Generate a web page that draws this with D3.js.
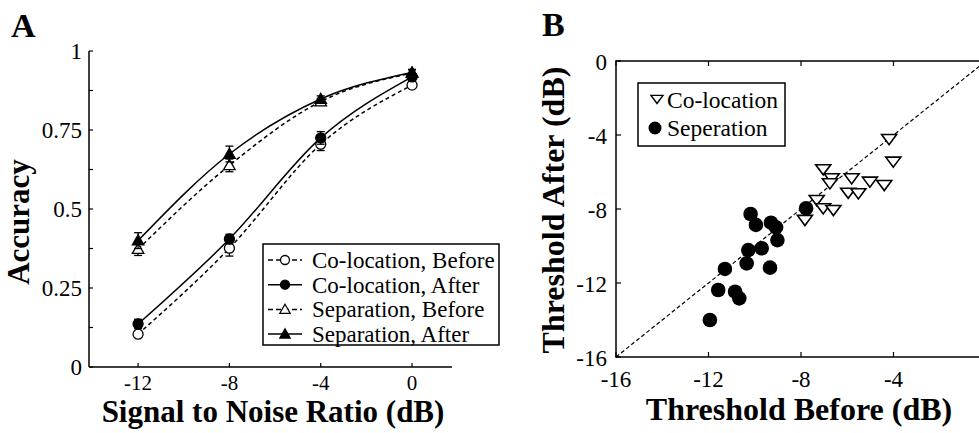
<!DOCTYPE html>
<html>
<head>
<meta charset="utf-8">
<script src="https://cdn.jsdelivr.net/npm/d3@7"></script>
<style>
  body { margin: 0; background: #fff; }
  svg { display: block; font-family: "Liberation Serif", "Times New Roman", serif; }
</style>
</head>
<body>
<div id="chart"></div>
<script>
// Panel A data: accuracy vs SNR
const snr = [-12, -8, -4, 0];
const coBefore = [0.104, 0.376, 0.705, 0.892];
const coAfter = [0.136, 0.405, 0.725, 0.918];
const sepBefore = [0.373, 0.638, 0.840, 0.930];
const sepAfter = [0.400, 0.674, 0.848, 0.932];
const coBeforeErr = [0.01, 0.025, 0.02, 0.01];
const coAfterErr = [0.015, 0.015, 0.02, 0.01];
const sepBeforeErr = [0.02, 0.02, 0.01, 0.01];
const sepAfterErr = [0.025, 0.025, 0.01, 0.01];
const accTicks = [0, 0.25, 0.5, 0.75, 1];
const accMinorTicks = [0.125, 0.375, 0.625, 0.875];

// Panel B data: thresholds before / after (dB)
const coX = [-7.04, -6.67, -6.75, -5.81, -5.02, -4.40, -4.01, -5.96, -5.52, -7.32, -7.04, -6.60, -7.83, -4.19];
const coY = [-5.85, -6.34, -6.61, -6.34, -6.52, -6.70, -5.44, -7.12, -7.15, -7.51, -7.96, -8.05, -8.59, -4.22];
const sepX = [-10.18, -9.95, -9.30, -9.08, -9.02, -10.28, -9.70, -10.35, -9.34, -11.29, -11.58, -10.85, -10.67, -11.94, -7.78];
const sepY = [-8.27, -8.86, -8.74, -8.99, -9.68, -10.22, -10.12, -10.94, -11.17, -11.24, -12.38, -12.47, -12.83, -14.00, -7.96];
const thrTicks = [-16, -12, -8, -4, 0];

const svg = d3.select("#chart").append("svg")
    .attr("width", 979)
    .attr("height", 433);

svg.append("rect").attr("width", 979).attr("height", 433).attr("fill", "#fff");

// ---------- Panel A ----------
const xA = d3.scaleLinear().domain([-14.15, 1.75]).range([89, 452]);
const yA = d3.scaleLinear().domain([0, 1]).range([367, 51]);

const gA = svg.append("g");

gA.append("line").attr("x1", xA.range()[0]).attr("x2", xA.range()[0])
    .attr("y1", yA(0)).attr("y2", yA(1)).attr("stroke", "#000").attr("stroke-width", 1.5);
gA.append("line").attr("x1", xA.range()[0]).attr("x2", xA.range()[1])
    .attr("y1", yA(0)).attr("y2", yA(0)).attr("stroke", "#000").attr("stroke-width", 1.5);

// y ticks (inward)
gA.selectAll(".ytick").data(accTicks.concat(accMinorTicks)).enter().append("line")
    .attr("x1", xA.range()[0]).attr("x2", xA.range()[0] + 4)
    .attr("y1", d => yA(d)).attr("y2", d => yA(d))
    .attr("stroke", "#000").attr("stroke-width", 1.2);
gA.selectAll(".ylab").data(accTicks).enter().append("text")
    .attr("x", xA.range()[0] - 7).attr("y", d => yA(d) + 8)
    .attr("text-anchor", "end").attr("font-size", 23)
    .text(d => d3.format("")(d));

// x ticks
gA.selectAll(".xtick").data(snr).enter().append("line")
    .attr("x1", d => xA(d)).attr("x2", d => xA(d))
    .attr("y1", yA(0)).attr("y2", yA(0) - 4)
    .attr("stroke", "#000").attr("stroke-width", 1.2);
gA.selectAll(".xlab").data(snr).enter().append("text")
    .attr("x", d => xA(d)).attr("y", 390)
    .attr("text-anchor", "middle").attr("font-size", 21)
    .text(d => d);

gA.append("text").attr("x", 273).attr("y", 422)
    .attr("text-anchor", "middle").attr("font-size", 31).attr("font-weight", "bold")
    .text("Signal to Noise Ratio (dB)");
gA.append("text").attr("transform", "translate(29,222) rotate(-90)")
    .attr("text-anchor", "middle").attr("font-size", 31).attr("font-weight", "bold")
    .text("Accuracy");
gA.append("text").attr("x", 11).attr("y", 37)
    .attr("font-size", 34).attr("font-weight", "bold").text("A");

const series = [
    { name: "Co-location, Before", vals: coBefore, err: coBeforeErr, dash: "4,3", shape: "circle", filled: false },
    { name: "Co-location, After", vals: coAfter, err: coAfterErr, dash: null, shape: "circle", filled: true },
    { name: "Separation, Before", vals: sepBefore, err: sepBeforeErr, dash: "4,3", shape: "triangle", filled: false },
    { name: "Separation, After", vals: sepAfter, err: sepAfterErr, dash: null, shape: "triangle", filled: true }
];

const lineA = d3.line()
    .x((d, i) => xA(snr[i]))
    .y(d => yA(d))
    .curve(d3.curveMonotoneX);

function drawMarker(g, shape, filled, x, y, size) {
    if (shape === "circle") {
        g.append("circle").attr("cx", x).attr("cy", y).attr("r", size)
            .attr("fill", filled ? "#000" : "#fff").attr("stroke", "#000").attr("stroke-width", 1.3);
    } else {
        const s = size * 1.15;
        g.append("path")
            .attr("d", `M${x},${y - s}L${x + s},${y + s * 0.75}L${x - s},${y + s * 0.75}Z`)
            .attr("fill", filled ? "#000" : "#fff").attr("stroke", "#000").attr("stroke-width", 1.3);
    }
}

series.forEach(s => {
    gA.append("path").datum(s.vals)
        .attr("d", lineA)
        .attr("fill", "none").attr("stroke", "#000").attr("stroke-width", 1.5)
        .attr("stroke-dasharray", s.dash);
    s.vals.forEach((v, i) => {
        const x = xA(snr[i]);
        gA.append("line").attr("x1", x).attr("x2", x)
            .attr("y1", yA(v - s.err[i])).attr("y2", yA(v + s.err[i]))
            .attr("stroke", "#000").attr("stroke-width", 1.3);
        [v - s.err[i], v + s.err[i]].forEach(e => {
            gA.append("line").attr("x1", x - 4).attr("x2", x + 4)
                .attr("y1", yA(e)).attr("y2", yA(e))
                .attr("stroke", "#000").attr("stroke-width", 1.3);
        });
        drawMarker(gA, s.shape, s.filled, x, yA(v), 5);
    });
});

// legend A
const legA = gA.append("g");
legA.append("rect").attr("x", 263).attr("y", 244).attr("width", 236).attr("height", 101)
    .attr("fill", "#fff").attr("stroke", "#000").attr("stroke-width", 1.5);
series.forEach((s, i) => {
    const ly = 260 + i * 24.7;
    legA.append("line").attr("x1", 268).attr("x2", 302).attr("y1", ly).attr("y2", ly)
        .attr("stroke", "#000").attr("stroke-width", 1.5).attr("stroke-dasharray", s.dash ? "5,3" : null);
    drawMarker(legA, s.shape, s.filled, 285, ly, 4.5);
    legA.append("text").attr("x", 312).attr("y", ly + 8)
        .attr("font-size", 23).text(s.name);
});

// ---------- Panel B ----------
const xB = d3.scaleLinear().domain([-16, 0]).range([616, 986]);
const yB = d3.scaleLinear().domain([-16, 0]).range([357, 61]);

const gB = svg.append("g");

gB.append("rect").attr("x", xB(-16)).attr("y", yB(0))
    .attr("width", xB(0) - xB(-16)).attr("height", yB(-16) - yB(0))
    .attr("fill", "none").attr("stroke", "#000").attr("stroke-width", 1.5);

thrTicks.forEach(t => {
    gB.append("line").attr("x1", xB(t)).attr("x2", xB(t)).attr("y1", yB(-16)).attr("y2", yB(-16) - 5)
        .attr("stroke", "#000").attr("stroke-width", 1.2);
    gB.append("line").attr("x1", xB(t)).attr("x2", xB(t)).attr("y1", yB(0)).attr("y2", yB(0) + 5)
        .attr("stroke", "#000").attr("stroke-width", 1.2);
    gB.append("line").attr("x1", xB(-16)).attr("x2", xB(-16) + 5).attr("y1", yB(t)).attr("y2", yB(t))
        .attr("stroke", "#000").attr("stroke-width", 1.2);
});
gB.selectAll(".bxl").data(thrTicks).enter().append("text")
    .attr("x", d => xB(d)).attr("y", 387)
    .attr("text-anchor", "middle").attr("font-size", 23).text(d => d);
gB.selectAll(".byl").data(thrTicks).enter().append("text")
    .attr("x", xB(-16) - 9).attr("y", d => yB(d) + 9)
    .attr("text-anchor", "end").attr("font-size", 23).text(d => d);

gB.append("text").attr("x", 799).attr("y", 420)
    .attr("text-anchor", "middle").attr("font-size", 32).attr("font-weight", "bold")
    .text("Threshold Before (dB)");
gB.append("text").attr("transform", "translate(564,210) rotate(-90)")
    .attr("text-anchor", "middle").attr("font-size", 32).attr("font-weight", "bold")
    .text("Threshold After (dB)");
gB.append("text").attr("x", 542).attr("y", 36)
    .attr("font-size", 34).attr("font-weight", "bold").text("B");

// identity line
gB.append("line").attr("x1", xB(-16)).attr("y1", yB(-16)).attr("x2", xB(0)).attr("y2", yB(0))
    .attr("stroke", "#000").attr("stroke-width", 1.2).attr("stroke-dasharray", "4,2.5");

function downTri(x, y, r) {
    return `M${x - r},${y - r * 0.6}L${x + r},${y - r * 0.6}L${x},${y + r * 0.75}Z`;
}

sepX.forEach((x, i) => {
    gB.append("circle").attr("cx", xB(x)).attr("cy", yB(sepY[i])).attr("r", 7.3).attr("fill", "#000");
});
coX.forEach((x, i) => {
    gB.append("path").attr("d", downTri(xB(x), yB(coY[i]), 7.5))
        .attr("fill", "#fff").attr("stroke", "#000").attr("stroke-width", 1.6);
});

// legend B
const legB = gB.append("g");
legB.append("rect").attr("x", 638).attr("y", 83).attr("width", 147).attr("height", 63)
    .attr("fill", "#fff").attr("stroke", "#000").attr("stroke-width", 1.5);
legB.append("path").attr("d", downTri(657, 99, 6))
    .attr("fill", "#fff").attr("stroke", "#000").attr("stroke-width", 1.4);
legB.append("circle").attr("cx", 655).attr("cy", 128).attr("r", 6.5).attr("fill", "#000");
legB.append("text").attr("x", 667).attr("y", 108).attr("font-size", 23.5).text("Co-location");
legB.append("text").attr("x", 667).attr("y", 136).attr("font-size", 23.5).text("Seperation");
</script>
</body>
</html>
